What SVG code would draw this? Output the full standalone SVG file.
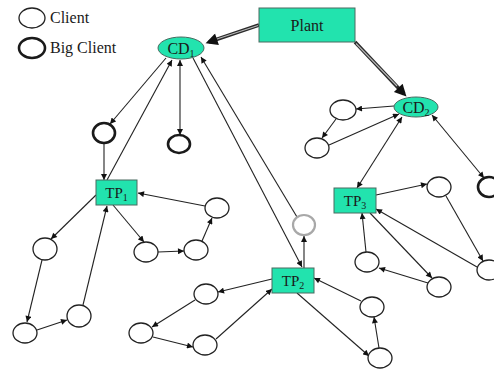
<svg xmlns="http://www.w3.org/2000/svg" width="494" height="374" viewBox="0 0 494 374">
  <style>
    .lbl { font-family: "Liberation Serif", "Times New Roman", serif; fill: #1a1a1a; }
    .node { fill: #22e3ae; stroke: #4a6a60; stroke-width: 1; }
    .client { fill: #fff; stroke: #222; stroke-width: 1.3; }
    .big { fill: #fff; stroke: #1a1a1a; stroke-width: 2.6; }
    .faint { fill: #fff; stroke: #a8a8a8; stroke-width: 2.2; }
    .edge { fill: none; stroke: #222; stroke-width: 1.1; marker-end: url(#arr); }
    .both { marker-start: url(#arr); }
    .feed { fill: none; stroke: #2a2a2a; stroke-width: 3.6; marker-end: url(#bigarr); }
    .feedcore { fill: none; stroke: #b8b8b8; stroke-width: 1.1; }
  </style>
  <defs>
    <marker id="arr" viewBox="0 0 10 10" refX="10" refY="5" markerWidth="7" markerHeight="6" markerUnits="userSpaceOnUse" orient="auto-start-reverse">
      <path d="M0,0 L10,5 L0,10 z" fill="#111"/>
    </marker>
    <marker id="bigarr" viewBox="0 0 10 10" refX="7" refY="5" markerWidth="15" markerHeight="12" markerUnits="userSpaceOnUse" orient="auto">
      <path d="M0,0 L10,5 L0,10 z" fill="#111"/>
    </marker>
  </defs>

  <rect width="494" height="374" fill="#fff"/>

  <!-- legend -->
  <g id="legend">
    <ellipse class="client" cx="32" cy="18" rx="13" ry="10"/>
    <text class="lbl" x="50" y="23" font-size="16">Client</text>
    <ellipse class="big" cx="32" cy="48" rx="13" ry="10"/>
    <text class="lbl" x="50" y="53" font-size="16">Big Client</text>
  </g>

  <!-- connectors -->
  <g id="connectors">
    <!-- plant feeds to the distribution centres -->
    <line class="feed" x1="259" y1="25" x2="209" y2="42"/>
    <line class="feedcore" x1="258" y1="25.5" x2="217" y2="39"/>
    <line class="feed" x1="355" y1="42" x2="404" y2="94"/>
    <line class="feedcore" x1="356" y1="43.5" x2="397" y2="86"/>

    <!-- CD1 -->
    <line class="edge" x1="166" y1="58" x2="110" y2="124"/>
    <line class="edge" x1="107" y1="180" x2="172" y2="60"/>
    <line class="edge both" x1="180" y1="60" x2="180" y2="135"/>
    <line class="edge" x1="193" y1="58" x2="302" y2="267"/>
    <line class="edge" x1="297" y1="217" x2="201" y2="57"/>
    <line class="edge" x1="304" y1="268" x2="304" y2="236"/>

    <!-- TP1 loop -->
    <line class="edge" x1="104" y1="143" x2="104" y2="180"/>
    <line class="edge" x1="96" y1="195" x2="51" y2="239"/>
    <line class="edge" x1="42" y1="260" x2="27" y2="322"/>
    <line class="edge" x1="37" y1="330" x2="67" y2="320"/>
    <line class="edge" x1="83" y1="305" x2="107" y2="206"/>
    <line class="edge" x1="113" y1="205" x2="144" y2="242"/>
    <line class="edge" x1="158" y1="252" x2="184" y2="251"/>
    <line class="edge" x1="202" y1="241" x2="212" y2="218"/>
    <line class="edge" x1="205" y1="206" x2="138" y2="193"/>

    <!-- TP2 loops -->
    <line class="edge" x1="272" y1="279" x2="218" y2="292"/>
    <line class="edge" x1="195" y1="300" x2="152" y2="327"/>
    <line class="edge" x1="153" y1="337" x2="193" y2="347"/>
    <line class="edge" x1="216" y1="339" x2="272" y2="289"/>
    <line class="edge" x1="361" y1="301" x2="314" y2="278"/>
    <line class="edge" x1="297" y1="293" x2="369" y2="356"/>
    <line class="edge" x1="379" y1="348" x2="374" y2="317"/>

    <!-- CD2 -->
    <line class="edge" x1="394" y1="106" x2="356" y2="109"/>
    <line class="edge" x1="336" y1="119" x2="322" y2="138"/>
    <line class="edge" x1="329" y1="145" x2="399" y2="114"/>
    <line class="edge both" x1="402" y1="117" x2="357" y2="188"/>
    <line class="edge both" x1="432" y1="115" x2="484" y2="178"/>

    <!-- TP3 loops -->
    <line class="edge" x1="376" y1="195" x2="427" y2="184"/>
    <line class="edge" x1="446" y1="196" x2="483" y2="261"/>
    <line class="edge" x1="477" y1="267" x2="376" y2="209"/>
    <line class="edge" x1="370" y1="213" x2="432" y2="278"/>
    <line class="edge" x1="428" y1="283" x2="379" y2="268"/>
    <line class="edge" x1="366" y1="252" x2="362" y2="213"/>
  </g>

  <!-- plant and distribution centres -->
  <g id="plant">
    <rect class="node" x="259" y="8" width="96" height="34"/>
    <text class="lbl" x="307" y="31" font-size="16" text-anchor="middle">Plant</text>
  </g>
  <g id="cd1">
    <ellipse class="node" cx="181" cy="48" rx="23" ry="11"/>
    <text class="lbl" x="181" y="54" font-size="16" text-anchor="middle">CD<tspan font-size="10" dy="3">1</tspan></text>
  </g>
  <g id="cd2">
    <ellipse class="node" cx="416" cy="107" rx="22" ry="10"/>
    <text class="lbl" x="416" y="113" font-size="16" text-anchor="middle">CD<tspan font-size="10" dy="3">2</tspan></text>
  </g>

  <!-- transfer points -->
  <g id="tp1">
    <rect class="node" x="96" y="180" width="41" height="25"/>
    <text class="lbl" x="116.5" y="198" font-size="15" text-anchor="middle">TP<tspan font-size="10" dy="3">1</tspan></text>
  </g>
  <g id="tp2">
    <rect class="node" x="272" y="268" width="42" height="25"/>
    <text class="lbl" x="293" y="286" font-size="15" text-anchor="middle">TP<tspan font-size="10" dy="3">2</tspan></text>
  </g>
  <g id="tp3">
    <rect class="node" x="334" y="188" width="42" height="25"/>
    <text class="lbl" x="355" y="206" font-size="15" text-anchor="middle">TP<tspan font-size="10" dy="3">3</tspan></text>
  </g>

  <!-- big clients -->
  <g id="big-client-1"><ellipse class="big" cx="104" cy="133" rx="11" ry="10"/></g>
  <g id="big-client-2"><ellipse class="big" cx="179" cy="144" rx="11" ry="9"/></g>
  <g id="big-client-3"><ellipse class="big" cx="489" cy="187" rx="11" ry="10"/></g>

  <!-- clients -->
  <g id="client-gray"><ellipse class="faint" cx="304" cy="225" rx="11" ry="10"/></g>
  <g id="client-a"><ellipse class="client" cx="45" cy="249" rx="12" ry="11"/></g>
  <g id="client-b"><ellipse class="client" cx="25" cy="333" rx="12" ry="10"/></g>
  <g id="client-c"><ellipse class="client" cx="79" cy="316" rx="12" ry="11"/></g>
  <g id="client-d"><ellipse class="client" cx="146" cy="252" rx="12" ry="10"/></g>
  <g id="client-e"><ellipse class="client" cx="196" cy="250" rx="12" ry="10"/></g>
  <g id="client-f"><ellipse class="client" cx="217" cy="208" rx="12" ry="10"/></g>
  <g id="client-g"><ellipse class="client" cx="206" cy="294" rx="12" ry="10"/></g>
  <g id="client-h"><ellipse class="client" cx="141" cy="333" rx="12" ry="10"/></g>
  <g id="client-i"><ellipse class="client" cx="205" cy="345" rx="12" ry="10"/></g>
  <g id="client-j"><ellipse class="client" cx="372" cy="307" rx="12" ry="10"/></g>
  <g id="client-k"><ellipse class="client" cx="380" cy="358" rx="12" ry="10"/></g>
  <g id="client-p"><ellipse class="client" cx="367" cy="262" rx="12" ry="10"/></g>
  <g id="client-m"><ellipse class="client" cx="439" cy="287" rx="12" ry="10"/></g>
  <g id="client-n"><ellipse class="client" cx="489" cy="270" rx="12" ry="10"/></g>
  <g id="client-o"><ellipse class="client" cx="439" cy="187" rx="12" ry="10"/></g>
  <g id="client-q"><ellipse class="client" cx="343" cy="110" rx="13" ry="10"/></g>
  <g id="client-r"><ellipse class="client" cx="317" cy="148" rx="12" ry="10"/></g>
</svg>
